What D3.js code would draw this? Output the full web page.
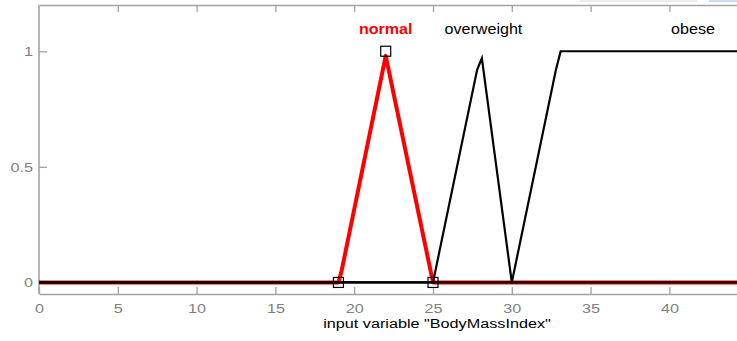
<!DOCTYPE html>
<html>
<head>
<meta charset="utf-8">
<script src="https://cdn.jsdelivr.net/npm/d3@7"></script>
<style>
  html, body { margin: 0; padding: 0; background: #fff; overflow: hidden; }
  svg { display: block; font-family: "Liberation Sans", Arial, sans-serif; }
</style>
</head>
<body>
<div id="chart"></div>
<script>
// membership functions of "BodyMassIndex" (breakpoints)
const normalX = [0, 19, 19.2, 22, 25, 50];
const normalY = [0, 0, 0.05, 0.98, 0, 0];
const overweightX = [0, 25, 27.8, 28.1, 30, 50];
const overweightY = [0, 0, 0.92, 0.97, 0, 0];
const obeseX = [0, 30, 32.8, 33.1, 50];
const obeseY = [0, 0, 0.92, 1, 1];
// square handles of the selected (red) function
const handleX = [19, 22, 25];
const handleY = [0, 1, 0];
const mfNames = ['normal', 'overweight', 'obese'];
const mfLabelX = [22, 28.2, 41.5];
const xTicks = [0, 5, 10, 15, 20, 25, 30, 35, 40];
const yTicks = [0, 0.5, 1];
const xTitle = 'input variable "BodyMassIndex"';

const width = 737, height = 341;
const svg = d3.select('#chart').append('svg')
  .attr('width', width).attr('height', height);

const x = d3.scaleLinear().domain([0, 50]).range([39, 39 + 50 * 15.76]);
const y = d3.scaleLinear().domain([-0.05, 1.2]).range([294, 5]);

const axisColor = '#a3a3a3';
const labelColor = '#7f7f7f';
const stretch = 1.2;

// small window decorations at the top edge
svg.append('rect').attr('x', 580).attr('y', 0).attr('width', 117).attr('height', 2).attr('fill', '#ececec');
svg.append('rect').attr('x', 709).attr('y', 0).attr('width', 28).attr('height', 2).attr('fill', '#cddcec');

/* axes */
const gBottom = svg.append('g').attr('transform', `translate(0,${y(-0.05)})`)
  .call(d3.axisBottom(x).tickValues(xTicks).tickSizeInner(-7).tickSizeOuter(0).tickPadding(9));
const gTop = svg.append('g').attr('transform', `translate(0,${y(1.2)})`)
  .call(d3.axisTop(x).tickValues(xTicks.slice(1)).tickSizeInner(-7).tickSizeOuter(0).tickFormat(''));
const gLeft = svg.append('g').attr('transform', `translate(${x(0)},0)`)
  .call(d3.axisLeft(y).tickValues(yTicks).tickSizeInner(-8).tickSizeOuter(0).tickPadding(6)
    .tickFormat(d => d === 0.5 ? '0.5' : d3.format('d')(d)));

[gBottom, gTop, gLeft].forEach(g => {
  g.select('.domain').attr('stroke', axisColor).attr('stroke-width', 1.6);
  g.selectAll('.tick line').attr('stroke', axisColor).attr('stroke-width', 1.3);
  g.selectAll('.tick text').attr('fill', labelColor).style('font-size', '13.5px');
});
gLeft.select('.domain').attr('d', `M0,${y(-0.05)}V${y(1.2)}`);
gBottom.selectAll('.tick text').attr('y', 19).attr('dy', null)
  .attr('transform', `scale(${stretch},1)`);
gLeft.selectAll('.tick text')
  .attr('transform', `translate(-6,0) scale(${stretch},1) translate(6,0)`);

/* curves */
const line = d3.line().x(d => x(d[0])).y(d => y(d[1]));
const zip = (a, b) => a.map((v, i) => [v, b[i]]);

const plot = svg.append('g');
plot.append('path').datum(zip(normalX, normalY))
  .attr('d', line).attr('fill', 'none').attr('stroke', '#ff0000')
  .attr('stroke-width', 4).attr('stroke-linejoin', 'round');
[zip(overweightX, overweightY), zip(obeseX, obeseY)].forEach(pts => {
  plot.append('path').datum(pts)
    .attr('d', line).attr('fill', 'none').attr('stroke', '#000')
    .attr('stroke-width', 2.2).attr('stroke-linejoin', 'miter');
});

plot.selectAll('rect.handle')
  .data(zip(handleX, handleY))
  .enter().append('rect')
  .attr('class', 'handle')
  .attr('x', d => x(d[0]) - 5)
  .attr('y', d => y(d[1]) - 5)
  .attr('width', 10).attr('height', 10)
  .attr('fill', 'none').attr('stroke', '#000').attr('stroke-width', 1.2);

/* mf names */
svg.selectAll('text.mf')
  .data(mfNames)
  .enter().append('text')
  .attr('class', 'mf')
  .attr('transform', (d, i) => `translate(${x(mfLabelX[i])},34) scale(1.15,1)`)
  .attr('text-anchor', 'middle')
  .style('font-size', '14px')
  .style('font-weight', (d, i) => i === 0 ? 'bold' : 'normal')
  .attr('fill', (d, i) => i === 0 ? '#ff0000' : '#000')
  .text(d => d);

/* x title */
svg.append('text')
  .attr('transform', `translate(437,328) scale(1.2,1)`)
  .attr('text-anchor', 'middle')
  .style('font-size', '13.5px')
  .attr('fill', '#000')
  .text(xTitle);
</script>
</body>
</html>
